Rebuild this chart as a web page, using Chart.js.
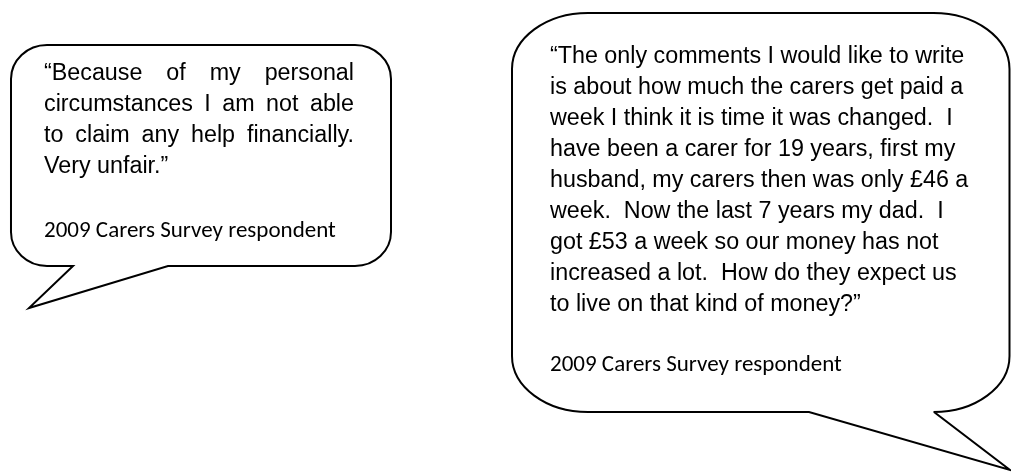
<!DOCTYPE html>
<html>
<head>
<meta charset="utf-8">
<script src="https://cdn.jsdelivr.net/npm/chart.js@4"></script>
<style>
	html, body { margin: 0; padding: 0; background: #ffffff; }
	#wrap { width: 1011px; height: 474px; position: relative; }
</style>
</head>
<body>
<div id="wrap"><canvas id="chart"></canvas></div>
<script>
const leftQuote = [
	"“Because of my personal",
	"circumstances I am not able",
	"to claim any help financially.",
	"Very unfair.”"
];
const rightQuote = [
	"“The only comments I would like to write",
	"is about how much the carers get paid a",
	"week I think it is time it was changed.  I",
	"have been a carer for 19 years, first my",
	"husband, my carers then was only £46 a",
	"week.  Now the last 7 years my dad.  I",
	"got £53 a week so our money has not",
	"increased a lot.  How do they expect us",
	"to live on that kind of money?”"
];
const sourceLabel = "2009 Carers Survey respondent";

// page units = pixels of the reference, mapped through the chart scales
const callouts = [
	{ box: [11, 45, 391, 266], radius: [36, 34], tail: [73, 168, 29, 308],
		lines: leftQuote, textX: 44, textW: 310, justify: true, firstBase: 80, step: 31, sourceBase: 237 },
	{ box: [512, 13, 1009.5, 412], radius: [76, 56], tail: [809, 934, 1010, 470],
		lines: rightQuote, textX: 550, textW: 424, justify: false, firstBase: 63, step: 31, sourceBase: 371 }
];
const quoteFont = "23.3px 'Liberation Sans', Arial, sans-serif";
const sourceFamily = "Carlito, Calibri, Lato, 'Open Sans', sans-serif";
const sourceWidth = 292;

const calloutPlugin = {
	id: "callouts",
	afterDraw: (chart) => {
		const { ctx } = chart;
		const sx = v => chart.scales.x.getPixelForValue(v);
		const sy = v => chart.scales.y.getPixelForValue(v);
		const k = 0.5523;
		ctx.save();
		for (const c of callouts) {
			const [x0, y0, x1, y1] = c.box.map((v, i) => i % 2 ? sy(v) : sx(v));
			const rx = sx(c.radius[0]) - sx(0), ry = sy(c.radius[1]) - sy(0);
			const [b1, b2, tx, ty] = [sx(c.tail[0]), sx(c.tail[1]), sx(c.tail[2]), sy(c.tail[3])];
			ctx.beginPath();
			ctx.moveTo(x0 + rx, y0);
			ctx.lineTo(x1 - rx, y0);
			ctx.bezierCurveTo(x1 - rx + rx * k, y0, x1, y0 + ry - ry * k, x1, y0 + ry);
			ctx.lineTo(x1, y1 - ry);
			ctx.bezierCurveTo(x1, y1 - ry + ry * k, x1 - rx + rx * k, y1, x1 - rx, y1);
			ctx.lineTo(b2, y1);
			ctx.lineTo(tx, ty);
			ctx.lineTo(b1, y1);
			ctx.lineTo(x0 + rx, y1);
			ctx.bezierCurveTo(x0 + rx - rx * k, y1, x0, y1 - ry + ry * k, x0, y1 - ry);
			ctx.lineTo(x0, y0 + ry);
			ctx.bezierCurveTo(x0, y0 + ry - ry * k, x0 + rx - rx * k, y0, x0 + rx, y0);
			ctx.closePath();
			ctx.fillStyle = "#ffffff";
			ctx.fill();
			ctx.lineWidth = 2;
			ctx.lineJoin = "miter";
			ctx.strokeStyle = "#000000";
			ctx.stroke();

			ctx.fillStyle = "#000000";
			ctx.textBaseline = "alphabetic";
			ctx.textAlign = "left";
			ctx.font = quoteFont;
			const left = sx(c.textX);
			c.lines.forEach((line, i) => {
				const y = sy(c.firstBase + i * c.step);
				const words = line.split(" ");
				if (c.justify && i < c.lines.length - 1 && words.length > 1) {
					const used = words.reduce((s, w) => s + ctx.measureText(w).width, 0);
					const gap = (sx(c.textX + c.textW) - left - used) / (words.length - 1);
					let x = left;
					for (const w of words) {
						ctx.fillText(w, x, y);
						x += ctx.measureText(w).width + gap;
					}
				} else {
					ctx.fillText(line, left, y);
				}
			});

			// fit the label font to the reference width
			ctx.font = "23px " + sourceFamily;
			const size = 23 * sourceWidth / ctx.measureText(sourceLabel).width;
			ctx.font = size.toFixed(2) + "px " + sourceFamily;
			ctx.fillText(sourceLabel, left, sy(c.sourceBase));
		}
		ctx.restore();
	}
};

new Chart(document.getElementById("chart"), {
	type: "scatter",
	data: { datasets: [{ data: [] }] },
	options: {
		responsive: true,
		maintainAspectRatio: false,
		animation: false,
		events: [],
		layout: { padding: 0 },
		plugins: { legend: { display: false }, tooltip: { enabled: false } },
		scales: {
			x: { display: false, min: 0, max: 1011 },
			y: { display: false, min: 0, max: 474, reverse: true }
		}
	},
	plugins: [calloutPlugin]
});
</script>
</body>
</html>
